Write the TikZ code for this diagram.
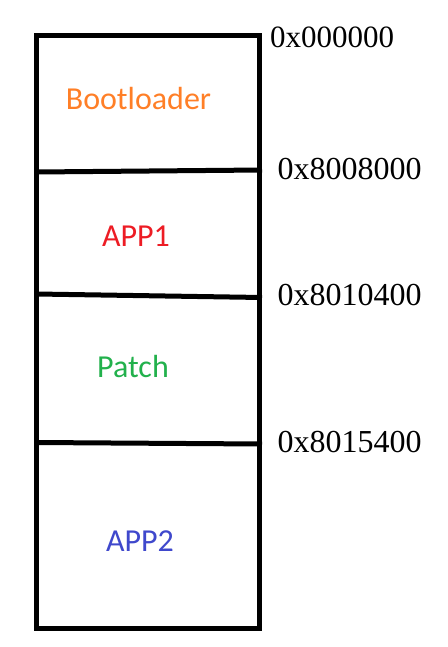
\documentclass[tikz,border=0pt]{standalone}
\usepackage{fontspec}
\setmainfont{Liberation Serif}
\newfontfamily\labelfont{Carlito}
\definecolor{cboot}{RGB}{255,127,39}
\definecolor{capp1}{RGB}{237,28,36}
\definecolor{cpatch}{RGB}{34,177,76}
\definecolor{capp2}{RGB}{63,72,204}
\begin{document}
\begin{tikzpicture}[x=1pt,y=-1pt,
  frame/.style={line width=5pt, line join=miter},
  divider/.style={line width=5pt},
  addr/.style={anchor=base west, inner sep=0pt, font=\fontsize{32}{36}\selectfont},
  region/.style={anchor=base, inner sep=0pt, font=\labelfont\fontsize{32}{36}\selectfont}]
\useasboundingbox (0,0) rectangle (447,647);
\fill[white] (0,0) rectangle (447,647);
\draw[frame] (36.5,36) rectangle (259.5,628);
\draw[divider] (36.5,172) -- (262,170);
\draw[divider] (36.5,294) -- (262,297.5);
\draw[divider] (36.5,442.5) -- (262,444);
\node[region, text=cboot] (boot) at (138.5,110) {Bootloader};
\node[region, text=capp1] (app1) at (136,246.5) {APP1};
\node[region, text=cpatch] (patch) at (133,377) {Patch};
\node[region, text=capp2] (app2) at (140,551) {APP2};
\node[addr, font=\fontsize{31}{36}\selectfont] (a0) at (270,47.5) {0x000000};
\node[addr] (a1) at (277.5,179.5) {0x8008000};
\node[addr] (a2) at (277.5,305.5) {0x8010400};
\node[addr] (a3) at (277.5,452.5) {0x8015400};
\end{tikzpicture}
\end{document}
